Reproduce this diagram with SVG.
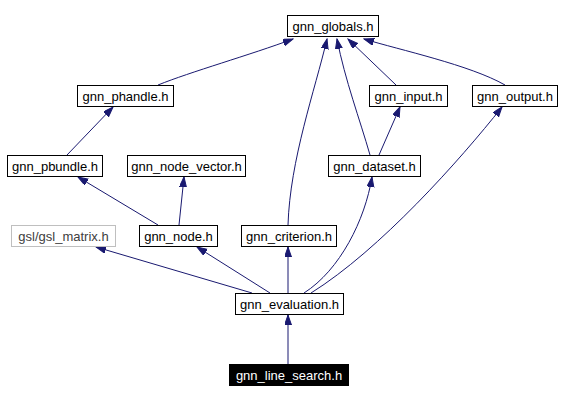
<svg xmlns="http://www.w3.org/2000/svg" width="561" height="401" viewBox="0 0 561 401">
<style>
  .node rect { fill: #ffffff; stroke: #000000; stroke-width: 1; }
  .node text { font-family: "Liberation Sans", Arial, sans-serif; font-size: 13px; text-anchor: middle; fill: #000000; }
  .grey rect { stroke: #bfbfbf; }
  .grey text { fill: #404040; }
  .dark rect { fill: #000000; }
  .dark text { fill: #ffffff; }
  .edges path { fill: none; stroke: #191970; stroke-width: 1; marker-end: url(#arr); }
</style>
<defs>
  <marker id="arr" markerUnits="userSpaceOnUse" markerWidth="11" markerHeight="8" refX="10" refY="3.5" orient="auto">
    <path d="M0,0 L10,3.5 L0,7 z" fill="#191970" stroke="#191970" stroke-width="1"/>
  </marker>
</defs>
<rect width="561" height="401" fill="#ffffff"/>
<g class="edges" id="edges">
  <path d="M158,85 C190,72 250,55 293,39"/>
  <path d="M288,225 C290,160 315,90 327,39"/>
  <path d="M370,155 C360,120 345,80 337,39"/>
  <path d="M396,85 L348,39"/>
  <path d="M505,85 C470,65 400,50 364,39"/>
  <path d="M67,155 L113,107"/>
  <path d="M158,225 L78,177"/>
  <path d="M179,225 L184,177"/>
  <path d="M379,155 L400,107"/>
  <path d="M252,293 L96,247"/>
  <path d="M270,293 L197,247"/>
  <path d="M288,293 L288,247"/>
  <path d="M304,293 C340,270 365,220 372,177"/>
  <path d="M311,293 C380,250 460,160 502,107"/>
  <path d="M288,364 L288,315"/>
</g>
<g class="node" id="gnn_globals"><rect x="287.5" y="15.5" width="91" height="21"/><text x="333" y="31">gnn_globals.h</text></g>
<g class="node" id="gnn_phandle"><rect x="77.5" y="85.5" width="96" height="21"/><text x="125.5" y="101">gnn_phandle.h</text></g>
<g class="node" id="gnn_input"><rect x="369.5" y="85.5" width="78" height="21"/><text x="408.5" y="101">gnn_input.h</text></g>
<g class="node" id="gnn_output"><rect x="472.5" y="85.5" width="85" height="21"/><text x="515" y="101">gnn_output.h</text></g>
<g class="node" id="gnn_pbundle"><rect x="7.5" y="155.5" width="95" height="21"/><text x="55" y="171">gnn_pbundle.h</text></g>
<g class="node" id="gnn_node_vector"><rect x="127.5" y="155.5" width="118" height="21"/><text x="186.5" y="171">gnn_node_vector.h</text></g>
<g class="node" id="gnn_dataset"><rect x="328.5" y="155.5" width="92" height="21"/><text x="374.5" y="171">gnn_dataset.h</text></g>
<g class="node grey" id="gsl_matrix"><rect x="11.5" y="225.5" width="104" height="21"/><text x="63.5" y="241">gsl/gsl_matrix.h</text></g>
<g class="node" id="gnn_node"><rect x="139.5" y="225.5" width="78" height="21"/><text x="178.5" y="241">gnn_node.h</text></g>
<g class="node" id="gnn_criterion"><rect x="241.5" y="225.5" width="95" height="21"/><text x="289" y="241">gnn_criterion.h</text></g>
<g class="node" id="gnn_evaluation"><rect x="235.5" y="293.5" width="108" height="21"/><text x="289.5" y="309">gnn_evaluation.h</text></g>
<g class="node dark" id="gnn_line_search"><rect x="229.5" y="364.5" width="119" height="21"/><text x="289" y="380">gnn_line_search.h</text></g>
</svg>
